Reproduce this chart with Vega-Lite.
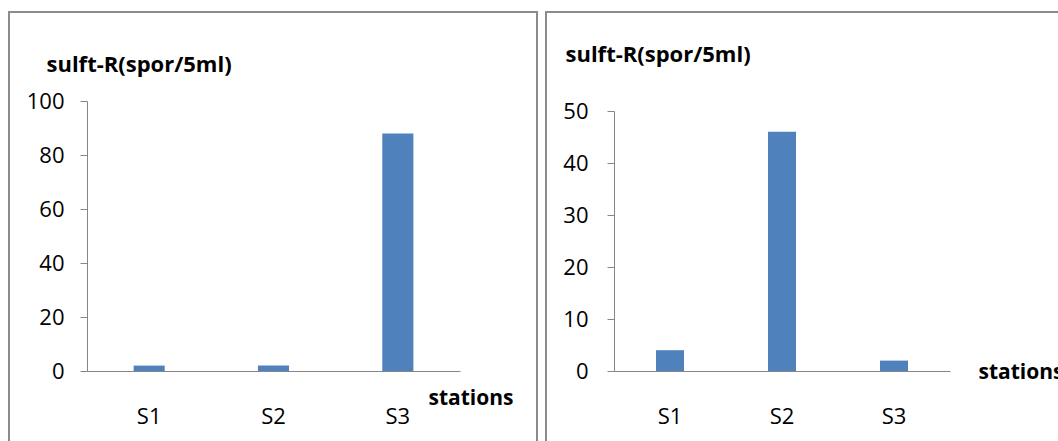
{
  "$schema": "https://vega.github.io/schema/vega-lite/v6.json",
  "padding": {"left": 8, "top": 11, "right": 0, "bottom": 0},
  "background": "white",
  "spacing": 7,
  "config": {
    "view": {"stroke": "#8c8c8c", "strokeWidth": 2},
    "font": "Open Sans",
    "axis": {
      "grid": false,
      "domainColor": "#868686",
      "tickColor": "#868686",
      "labelFont": "Open Sans",
      "labelFontSize": 22,
      "labelColor": "#000000",
      "titleFont": "Open Sans",
      "titleFontSize": 21,
      "titleFontWeight": "bold",
      "titleColor": "#000000"
    }
  },
  "hconcat": [
    {
      "width": 528,
      "height": 440,
      "data": {"values": [
        {"station": "S1", "value": 2},
        {"station": "S2", "value": 2},
        {"station": "S3", "value": 88}
      ]},
      "mark": {"type": "bar", "color": "#4F81BD"},
      "encoding": {
        "x": {
          "field": "station", "type": "nominal",
          "scale": {"range": [78, 451], "paddingInner": 0.75, "paddingOuter": 0.375},
          "axis": {
            "orient": "bottom", "offset": -81, "ticks": false, "labelAngle": 0,
            "labelBaseline": "alphabetic", "labelPadding": 52,
            "title": "stations", "titleX": 419, "titleY": 33,
            "titleAlign": "left", "titleBaseline": "alphabetic"
          }
        },
        "y": {
          "field": "value", "type": "quantitative",
          "scale": {"domain": [0, 100], "range": [359, 89], "nice": false},
          "axis": {
            "offset": -78, "values": [0, 20, 40, 60, 80, 100], "tickSize": 7,
            "labelPadding": 16, "labelBaseline": "middle",
            "title": "sulft-R(spor/5ml)", "titleFontSize": 22, "titleAngle": 0, "titleX": -41, "titleY": 59,
            "titleAlign": "left", "titleBaseline": "alphabetic"
          }
        }
      }
    },
    {
      "width": 527,
      "height": 440,
      "data": {"values": [
        {"station": "S1", "value": 4},
        {"station": "S2", "value": 46},
        {"station": "S3", "value": 2}
      ]},
      "mark": {"type": "bar", "color": "#4F81BD"},
      "encoding": {
        "x": {
          "field": "station", "type": "nominal",
          "scale": {"range": [68, 404], "paddingInner": 0.75, "paddingOuter": 0.375},
          "axis": {
            "orient": "bottom", "offset": -81, "ticks": false, "labelAngle": 0,
            "labelBaseline": "alphabetic", "labelPadding": 52,
            "title": "stations", "titleX": 432, "titleY": 7,
            "titleAlign": "left", "titleBaseline": "alphabetic"
          }
        },
        "y": {
          "field": "value", "type": "quantitative",
          "scale": {"domain": [0, 50], "range": [359, 99], "nice": false},
          "axis": {
            "offset": -68, "values": [0, 10, 20, 30, 40, 50], "tickSize": 7,
            "labelPadding": 19, "labelBaseline": "middle",
            "title": "sulft-R(spor/5ml)", "titleFontSize": 22, "titleAngle": 0, "titleX": -49, "titleY": 49,
            "titleAlign": "left", "titleBaseline": "alphabetic"
          }
        }
      }
    }
  ]
}
